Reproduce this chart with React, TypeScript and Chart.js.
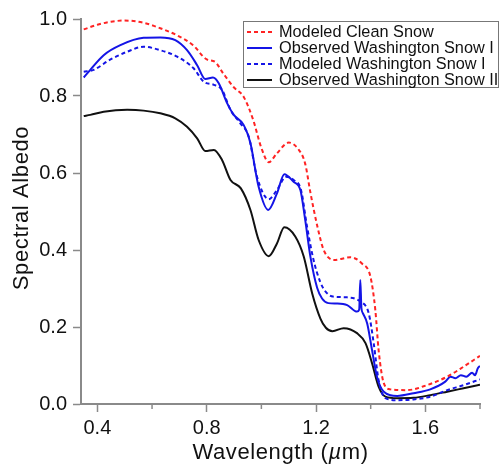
import React, { useEffect, useRef } from "react";
import { Chart, registerables } from "chart.js";

Chart.register(...registerables);

// ---- Data ----
const cleanX = [0.35, 0.40, 0.45, 0.50, 0.57, 0.63, 0.69, 0.75, 0.80, 0.83, 0.86, 0.90, 0.935, 0.97, 1.00, 1.027, 1.057, 1.10, 1.135, 1.16, 1.18, 1.205, 1.228, 1.265, 1.326, 1.368, 1.399, 1.417, 1.429, 1.448, 1.472, 1.533, 1.606, 1.68, 1.74, 1.80];
const cleanY = [0.973, 0.985, 0.993, 0.996, 0.990, 0.976, 0.958, 0.932, 0.895, 0.889, 0.859, 0.822, 0.798, 0.738, 0.665, 0.628, 0.651, 0.679, 0.662, 0.625, 0.547, 0.461, 0.40, 0.374, 0.381, 0.365, 0.331, 0.244, 0.14, 0.054, 0.038, 0.036, 0.049, 0.071, 0.097, 0.125];

const obsWa1X = [0.35, 0.374, 0.423, 0.484, 0.569, 0.63, 0.685, 0.728, 0.765, 0.795, 0.823, 0.844, 0.875, 0.899, 0.935, 0.96, 0.99, 1.025, 1.057, 1.084, 1.118, 1.143, 1.16, 1.18, 1.204, 1.222, 1.245, 1.277, 1.314, 1.35, 1.358, 1.362, 1.366, 1.372, 1.387, 1.405, 1.423, 1.448, 1.497, 1.557, 1.618, 1.673, 1.692, 1.71, 1.73, 1.75, 1.771, 1.782, 1.792, 1.80];
const obsWa1Y = [0.848, 0.868, 0.906, 0.932, 0.951, 0.952, 0.945, 0.919, 0.88, 0.844, 0.848, 0.833, 0.781, 0.751, 0.725, 0.677, 0.564, 0.504, 0.547, 0.597, 0.577, 0.555, 0.48, 0.38, 0.302, 0.274, 0.262, 0.261, 0.257, 0.24, 0.245, 0.322, 0.25, 0.235, 0.21, 0.14, 0.071, 0.032, 0.021, 0.028, 0.038, 0.058, 0.071, 0.067, 0.075, 0.071, 0.081, 0.075, 0.093, 0.099];

const modWa1X = [0.35, 0.386, 0.448, 0.509, 0.569, 0.63, 0.692, 0.752, 0.789, 0.826, 0.856, 0.887, 0.923, 0.954, 0.984, 1.027, 1.057, 1.09, 1.118, 1.145, 1.167, 1.191, 1.216, 1.235, 1.262, 1.314, 1.362, 1.393, 1.411, 1.429, 1.454, 1.497, 1.557, 1.618, 1.68, 1.74, 1.80];
const modWa1Y = [0.863, 0.868, 0.895, 0.915, 0.928, 0.919, 0.902, 0.872, 0.837, 0.829, 0.816, 0.764, 0.729, 0.694, 0.59, 0.532, 0.556, 0.59, 0.582, 0.556, 0.461, 0.374, 0.316, 0.292, 0.279, 0.277, 0.266, 0.235, 0.158, 0.062, 0.015, 0.01, 0.012, 0.019, 0.036, 0.049, 0.064];

const obsWa2X = [0.35, 0.374, 0.423, 0.509, 0.569, 0.63, 0.685, 0.728, 0.765, 0.795, 0.826, 0.856, 0.887, 0.925, 0.96, 0.99, 1.027, 1.057, 1.084, 1.124, 1.155, 1.186, 1.216, 1.236, 1.26, 1.301, 1.35, 1.381, 1.405, 1.429, 1.454, 1.497, 1.557, 1.618, 1.68, 1.74, 1.80];
const obsWa2Y = [0.748, 0.751, 0.759, 0.764, 0.762, 0.755, 0.742, 0.72, 0.69, 0.657, 0.66, 0.634, 0.582, 0.56, 0.504, 0.426, 0.384, 0.417, 0.459, 0.435, 0.383, 0.287, 0.222, 0.198, 0.189, 0.197, 0.184, 0.158, 0.106, 0.045, 0.019, 0.015, 0.016, 0.023, 0.032, 0.041, 0.050];

const seriesNames = ["Modeled Clean Snow", "Observed Washington Snow I", "Modeled Washington Snow I", "Observed Washington Snow II"];

const xTicks = [0.4, 0.6, 0.8, 1.0, 1.2, 1.4, 1.6, 1.8];
const xLabelTicks = [0.4, 0.8, 1.2, 1.6];
const xMinorTicks = [0.6, 1.0, 1.4, 1.8];
const yTicks = [0.0, 0.2, 0.4, 0.6, 0.8, 1.0];

const xTitleParts = ["Wavelength (", "\u00b5", "m)"];
const yTitle = "Spectral Albedo";

// ---- Styles ----
const FONT = "'Liberation Sans', Arial, Helvetica, sans-serif";
const AXIS = "#8a8a8a";
const RED = "rgb(255,35,35)";
const BLUE = "rgb(20,20,230)";
const BLACK = "#111111";

const near = (a: number, list: number[]) => list.some((v) => Math.abs(v - a) < 1e-6);
const pts = (xs: number[], ys: number[]) => xs.map((x, i) => ({ x, y: ys[i] }));

const decorPlugin = {
  id: "decor",
  afterDraw(chart: any) {
    const ctx = chart.ctx as CanvasRenderingContext2D;
    const xs = chart.scales.x;
    // minor ticks
    ctx.save();
    ctx.strokeStyle = AXIS;
    ctx.lineWidth = 1.5;
    xMinorTicks.forEach((v) => {
      const px = xs.getPixelForValue(v);
      ctx.beginPath();
      ctx.moveTo(px, xs.top);
      ctx.lineTo(px, xs.top + 5);
      ctx.stroke();
    });
    ctx.restore();

    // x title with italic mu
    ctx.save();
    ctx.fillStyle = BLACK;
    ctx.textBaseline = "alphabetic";
    ctx.textAlign = "left";
    const normal = `22px ${FONT}`;
    const italic = `italic 22px ${FONT}`;
    (ctx as any).letterSpacing = "0.6px";
    const fonts = [normal, italic, normal];
    const widths = xTitleParts.map((t, i) => {
      ctx.font = fonts[i];
      return ctx.measureText(t).width;
    });
    const total = widths.reduce((a, b) => a + b, 0);
    const cx = (chart.chartArea.left + chart.chartArea.right) / 2;
    let x = cx - total / 2;
    xTitleParts.forEach((t, i) => {
      ctx.font = fonts[i];
      ctx.fillText(t, x, 459);
      x += widths[i];
    });
    ctx.restore();

    // y title
    ctx.save();
    ctx.fillStyle = BLACK;
    ctx.font = `22px ${FONT}`;
    (ctx as any).letterSpacing = "0.6px";
    ctx.textAlign = "center";
    ctx.textBaseline = "alphabetic";
    ctx.translate(28, 208);
    ctx.rotate(-Math.PI / 2);
    ctx.fillText(yTitle, 0, 0);
    ctx.restore();

    // legend
    ctx.save();
    const bx = 243, by = 21.5, bw = 256, bh = 66;
    ctx.fillStyle = "#ffffff";
    ctx.fillRect(bx, by, bw, bh);
    ctx.strokeStyle = "#777";
    ctx.lineWidth = 1;
    ctx.strokeRect(bx + 0.5, by, bw - 1, bh);
    ctx.font = `16.3px ${FONT}`;
    ctx.textBaseline = "middle";
    ctx.textAlign = "left";
    chart.data.datasets.forEach((ds: any, i: number) => {
      const ry = 32 + i * 16;
      ctx.strokeStyle = ds.borderColor;
      ctx.lineWidth = 2;
      ctx.setLineDash(ds.borderDash || []);
      ctx.beginPath();
      ctx.moveTo(247, ry);
      ctx.lineTo(272, ry);
      ctx.stroke();
      ctx.setLineDash([]);
      ctx.fillStyle = BLACK;
      ctx.fillText(ds.label, 279, ry + 0.5);
    });
    ctx.restore();
  },
};

export default function App() {
  const ref = useRef<HTMLCanvasElement | null>(null);
  useEffect(() => {
    if (!ref.current) return;
    const mk = (i: number, xs: number[], ys: number[], color: string, dash: number[]) => ({
      label: seriesNames[i],
      data: pts(xs, ys),
      borderColor: color,
      borderWidth: 2,
      borderDash: dash,
      pointRadius: 0,
      fill: false,
      cubicInterpolationMode: "monotone" as const,
    });
    const chart = new Chart(ref.current, {
      type: "line",
      data: {
        datasets: [
          mk(0, cleanX, cleanY, RED, [4, 3]),
          mk(1, obsWa1X, obsWa1Y, BLUE, []),
          mk(2, modWa1X, modWa1Y, BLUE, [4, 3]),
          mk(3, obsWa2X, obsWa2Y, BLACK, []),
        ],
      },
      options: {
        animation: false,
        responsive: false,
        layout: { padding: { top: 19, right: 20, left: 0, bottom: 0 } },
        plugins: { legend: { display: false }, tooltip: { enabled: false } },
        scales: {
          x: {
            type: "linear",
            min: 0.34,
            max: 1.8,
            afterBuildTicks: (s: any) => {
              s.ticks = xTicks.map((v) => ({ value: v }));
            },
            afterFit: (s: any) => {
              s.height = 62;
            },
            grid: {
              drawOnChartArea: false,
              drawTicks: true,
              tickLength: 8,
              tickWidth: 1.5,
              tickColor: (c: any) => (c.tick && near(c.tick.value, xLabelTicks) ? AXIS : "rgba(0,0,0,0)"),
            },
            border: { display: true, color: AXIS, width: 2 },
            ticks: {
              color: BLACK,
              font: { family: FONT, size: 20 },
              padding: 4,
              maxRotation: 0,
              autoSkip: false,
              callback: (v: any) => (near(Number(v), xLabelTicks) ? Number(v).toFixed(1) : ""),
            },
          },
          y: {
            type: "linear",
            min: 0,
            max: 1.0,
            afterBuildTicks: (s: any) => {
              s.ticks = yTicks.map((v) => ({ value: v }));
            },
            afterFit: (s: any) => {
              s.width = 81;
            },
            grid: { drawOnChartArea: false, drawTicks: true, tickLength: 8, tickWidth: 1.5, tickColor: AXIS },
            border: { display: true, color: AXIS, width: 2 },
            ticks: {
              color: BLACK,
              font: { family: FONT, size: 20 },
              padding: 6,
              autoSkip: false,
              callback: (v: any) => Number(v).toFixed(1),
            },
          },
        },
      },
      plugins: [decorPlugin],
    });
    return () => chart.destroy();
  }, []);
  return (
    <div style={{ position: "fixed", left: 0, top: 0, width: 500, height: 466, background: "#fff" }}>
      <canvas ref={ref} width={500} height={466} style={{ width: 500, height: 466, display: "block" }} />
    </div>
  );
}
